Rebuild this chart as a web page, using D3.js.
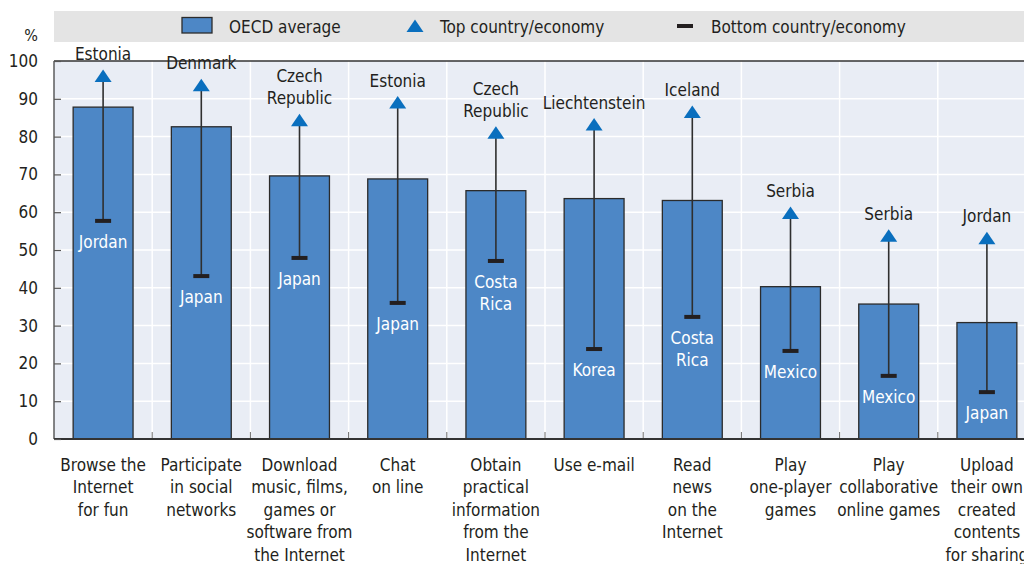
<!DOCTYPE html>
<html>
<head>
<meta charset="utf-8">
<script src="https://cdn.jsdelivr.net/npm/d3@7"></script>
<style>
  body { margin: 0; background: #fff; }
  svg text { font-family: "DejaVu Sans Condensed", "Liberation Sans Narrow", sans-serif; fill: #231f20; }
</style>
</head>
<body>
<svg id="chart"></svg>
<script>
// activities, OECD average and the top / bottom country for each
var categories = [
  "Browse the\nInternet\nfor fun",
  "Participate\nin social\nnetworks",
  "Download\nmusic, films,\ngames or\nsoftware from\nthe Internet",
  "Chat\non line",
  "Obtain\npractical\ninformation\nfrom the\nInternet",
  "Use e-mail",
  "Read\nnews\non the\nInternet",
  "Play\none-player\ngames",
  "Play\ncollaborative\nonline games",
  "Upload\ntheir own\ncreated\ncontents\nfor sharing"
];
var oecdAverage = [87.8, 82.6, 69.6, 68.8, 65.7, 63.6, 63.1, 40.3, 35.7, 30.8];
var topValues = [96.0, 93.6, 84.3, 89.0, 81.0, 83.2, 86.5, 59.8, 53.8, 53.1];
var topCountries = ["Estonia", "Denmark", "Czech\nRepublic", "Estonia", "Czech\nRepublic",
  "Liechtenstein", "Iceland", "Serbia", "Serbia", "Jordan"];
var bottomValues = [57.7, 43.1, 47.9, 36.0, 47.1, 23.8, 32.3, 23.3, 16.7, 12.4];
var bottomCountries = ["Jordan", "Japan", "Japan", "Japan", "Costa\nRica",
  "Korea", "Costa\nRica", "Mexico", "Mexico", "Japan"];
var yTicks = [0, 10, 20, 30, 40, 50, 60, 70, 80, 90, 100];
var legendItems = ["OECD average", "Top country/economy", "Bottom country/economy"];

var svgWidth = 1024;
var svgHeight = 564;
var margin = { top: 61, left: 54, bottom: 125 };
var plotRight = 1036;   // the chart runs past the picture edge
var plotBottom = svgHeight - margin.bottom; // 439

var blue = "#4d87c6";
var triBlue = "#0a6fbe";
var dark = "#231f20";
var fs = 17;

var svg = d3.select('#chart')
  .attr('width', svgWidth)
  .attr('height', svgHeight);

var data = categories.map(function(c, i) {
  return { cat: c, avg: oecdAverage[i], top: topValues[i], topName: topCountries[i],
           bot: bottomValues[i], botName: bottomCountries[i] };
});

var x = d3.scaleBand()
  .domain(categories)
  .range([margin.left, plotRight])
  .paddingInner(0.39)
  .paddingOuter(0.195);

var y = d3.scaleLinear()
  .domain([0, 100])
  .range([plotBottom, margin.top]);

var step = x.step();
var bounds = categories.slice(1).map(function(c) { return x(c) + x.bandwidth() / 2 - step / 2; });

/* plot background */
svg.append('rect')
  .attr('x', margin.left).attr('y', margin.top)
  .attr('width', plotRight - margin.left).attr('height', plotBottom - margin.top)
  .attr('fill', '#e9edf5');

/* grid */
svg.append('g')
  .selectAll('line')
  .data(yTicks.filter(function(t) { return t > 0 && t < 100; }))
  .enter().append('line')
  .attr('x1', margin.left).attr('x2', plotRight)
  .attr('y1', function(d) { return y(d); }).attr('y2', function(d) { return y(d); })
  .attr('stroke', '#fff').attr('stroke-width', 1.5);

svg.append('g')
  .selectAll('line')
  .data(bounds)
  .enter().append('line')
  .attr('x1', function(d) { return d; }).attr('x2', function(d) { return d; })
  .attr('y1', margin.top).attr('y2', plotBottom)
  .attr('stroke', '#fff').attr('stroke-width', 1.5);

/* bars */
svg.append('g')
  .selectAll('rect')
  .data(data)
  .enter().append('rect')
  .attr('x', function(d) { return x(d.cat); })
  .attr('y', function(d) { return y(d.avg); })
  .attr('width', x.bandwidth())
  .attr('height', function(d) { return y(0) - y(d.avg); })
  .attr('fill', blue)
  .attr('stroke', '#2b2b2b')
  .attr('stroke-width', 1.3);

/* bottom ticks at band edges */
svg.append('g')
  .selectAll('line')
  .data(bounds)
  .enter().append('line')
  .attr('x1', function(d) { return d; }).attr('x2', function(d) { return d; })
  .attr('y1', plotBottom).attr('y2', plotBottom - 7)
  .attr('stroke', '#6d6d6d').attr('stroke-width', 1);

/* frame: left, top, bottom */
svg.append('line')
  .attr('x1', margin.left).attr('x2', plotRight)
  .attr('y1', margin.top).attr('y2', margin.top)
  .attr('stroke', '#333').attr('stroke-width', 1.5);
svg.append('line')
  .attr('x1', margin.left).attr('x2', margin.left)
  .attr('y1', margin.top).attr('y2', plotBottom)
  .attr('stroke', '#444').attr('stroke-width', 1.3);
svg.append('line')
  .attr('x1', margin.left).attr('x2', plotRight)
  .attr('y1', plotBottom).attr('y2', plotBottom)
  .attr('stroke', '#333').attr('stroke-width', 2.2);

/* y axis */
var yAxis = g => g
  .attr('transform', 'translate(' + margin.left + ',0)')
  .call(d3.axisLeft(y).tickValues(yTicks).tickSizeInner(-7).tickSizeOuter(0).tickPadding(16))
  .call(g => g.select('.domain').remove())
  .call(g => g.selectAll('.tick line').attr('stroke', '#555').attr('stroke-width', 1.2))
  .call(g => g.selectAll('.tick text').attr('font-size', fs).attr('fill', dark));
svg.append('g').call(yAxis);

svg.append('text')
  .attr('x', 31).attr('y', 41)
  .attr('text-anchor', 'middle')
  .attr('font-size', 16)
  .text('%');

/* whiskers */
var center = function(d) { return x(d.cat) + x.bandwidth() / 2; };

svg.append('g')
  .selectAll('line')
  .data(data)
  .enter().append('line')
  .attr('x1', center).attr('x2', center)
  .attr('y1', function(d) { return y(d.bot); })
  .attr('y2', function(d) { return y(d.top); })
  .attr('stroke', '#2f2f2f').attr('stroke-width', 1.6);

svg.append('g')
  .selectAll('rect')
  .data(data)
  .enter().append('rect')
  .attr('x', function(d) { return center(d) - 8; })
  .attr('y', function(d) { return y(d.bot) - 2; })
  .attr('width', 16).attr('height', 4)
  .attr('fill', dark);

var triPath = function(cx, cy) {
  return 'M' + (cx - 8.5) + ',' + (cy + 6) + 'L' + cx + ',' + (cy - 6.5) + 'L' + (cx + 8.5) + ',' + (cy + 6) + 'Z';
};

svg.append('g')
  .selectAll('path')
  .data(data)
  .enter().append('path')
  .attr('d', function(d) { return triPath(center(d), y(d.top)); })
  .attr('fill', triBlue);

/* country labels */
var lh = 22;
data.forEach(function(d) {
  var lines = d.topName.split('\n');
  var t = svg.append('text')
    .attr('text-anchor', 'middle')
    .attr('font-size', fs);
  lines.forEach(function(l, i) {
    t.append('tspan')
      .attr('x', center(d))
      .attr('y', y(d.top) - 16 - (lines.length - 1 - i) * lh)
      .text(l);
  });

  var blines = d.botName.split('\n');
  var b = svg.append('text')
    .attr('text-anchor', 'middle')
    .attr('font-size', fs)
    .style('fill', '#fff');
  blines.forEach(function(l, i) {
    b.append('tspan')
      .attr('x', center(d))
      .attr('y', y(d.bot) + 27 + i * lh)
      .text(l);
  });
});

/* category labels */
data.forEach(function(d) {
  var lines = d.cat.split('\n');
  var t = svg.append('text')
    .attr('text-anchor', 'middle')
    .attr('font-size', fs);
  lines.forEach(function(l, i) {
    t.append('tspan')
      .attr('x', center(d))
      .attr('y', 471 + i * 22.4)
      .text(l);
  });
});

/* legend */
var lg = svg.append('g');
lg.append('rect')
  .attr('x', margin.left).attr('y', 11)
  .attr('width', plotRight - margin.left).attr('height', 31)
  .attr('fill', '#e4e4e4');
lg.append('rect')
  .attr('x', 182).attr('y', 17.5).attr('width', 30).attr('height', 15.5)
  .attr('fill', blue).attr('stroke', '#2b2b2b').attr('stroke-width', 1.3);
lg.append('path')
  .attr('d', triPath(415, 26))
  .attr('fill', triBlue);
lg.append('rect')
  .attr('x', 677).attr('y', 24).attr('width', 16).attr('height', 4)
  .attr('fill', dark);
var legendX = [229, 440, 711];
legendItems.forEach(function(s, i) {
  lg.append('text')
    .attr('x', legendX[i]).attr('y', 32.5)
    .attr('font-size', fs)
    .text(s);
});
</script>
</body>
</html>
